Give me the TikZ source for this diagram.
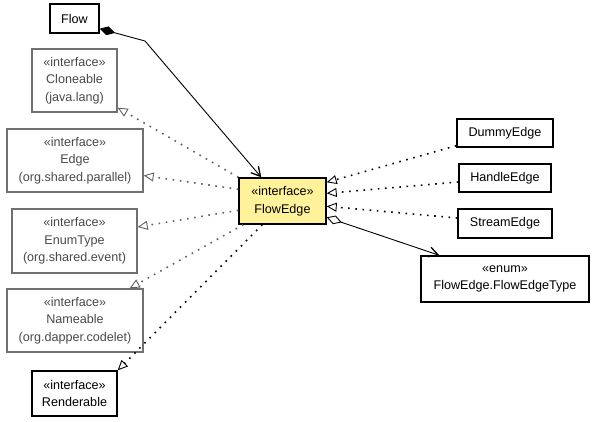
\documentclass[tikz,border=0pt]{standalone}
\usepackage{fontspec}
\setmainfont{Liberation Sans}
\usetikzlibrary{arrows.meta}
\definecolor{noteyellow}{HTML}{FFF29A}
\definecolor{libgray}{HTML}{707070}
\definecolor{libtext}{HTML}{4A4A4A}
\definecolor{libline}{HTML}{606060}
\tikzset{
  umlbox/.style={draw=black, line width=1.4pt, fill=white, inner sep=0pt,
    align=center, font=\fontsize{12.6}{17.5}\selectfont},
  libbox/.style={umlbox, draw=libgray, text=libtext},
  focusbox/.style={umlbox, fill=noteyellow},
  realize/.style={line width=1.6pt, dash pattern=on 1.6pt off 5.6pt,
    -{Triangle[open, length=10pt, width=9pt, line width=0.9pt]}},
  librealize/.style={realize, draw=libline},
  navig/.style={line width=0.9pt, -{Straight Barb[length=9pt, width=10pt, line width=1.3pt]}},
}
\begin{document}
\begin{tikzpicture}[x=1pt, y=-1pt]
\useasboundingbox (0,0) rectangle (595,421);

% classes
\node[umlbox, minimum width=49pt, minimum height=29pt] (flow) at (74.5,18.5) {Flow};
\node[libbox, minimum width=85pt, minimum height=63pt] (clone) at (74.5,80.5)
  {«interface»\\Cloneable\\(java.lang)};
\node[libbox, minimum width=136pt, minimum height=63pt] (edge) at (75,160.5)
  {«interface»\\Edge\\(org.shared.parallel)};
\node[libbox, minimum width=125pt, minimum height=64pt] (enum) at (74.5,241)
  {«interface»\\EnumType\\(org.shared.event)};
\node[libbox, minimum width=136pt, minimum height=63pt] (name) at (75,320.5)
  {«interface»\\Nameable\\(org.dapper.codelet)};
\node[umlbox, minimum width=85pt, minimum height=45pt] (render) at (74.5,393.5)
  {«interface»\\Renderable};
\node[focusbox, minimum width=87pt, minimum height=46pt] (fe) at (282.5,201)
  {«interface»\\FlowEdge};
\node[umlbox, minimum width=96pt, minimum height=28pt] (dummy) at (505,133) {DummyEdge};
\node[umlbox, minimum width=92pt, minimum height=28pt] (handle) at (505,178) {HandleEdge};
\node[umlbox, minimum width=94pt, minimum height=29pt] (stream) at (505,223.5) {StreamEdge};
\node[umlbox, minimum width=168pt, minimum height=46pt] (fetype) at (505,279)
  {«enum»\\FlowEdge.FlowEdgeType};

% composition Flow -> FlowEdge
\coordinate (bend) at (145,41);
\draw[navig, {Diamond[length=16pt, width=9pt]}-{Straight Barb[length=9pt, width=10pt, line width=1.3pt]}]
  ([yshift=5pt]flow.south east) -- (bend) -- ([xshift=23pt]fe.north west);

% FlowEdge extends library interfaces
\draw[librealize] (fe.north west) -- ([yshift=5pt]clone.south east);
\draw[librealize] ([yshift=-12pt]fe.north west) -- ([yshift=-15pt]edge.east);
\draw[librealize] ([yshift=-33pt]fe.north west) -- ([yshift=14pt]enum.east);
\draw[librealize] ([xshift=5pt]fe.south west) -- ([xshift=-14pt]name.north east);
\draw[realize] ([xshift=24pt]fe.south west) -- (render.north east);

% implementations of FlowEdge
\draw[realize] ([yshift=2pt]dummy.south west) -- ([yshift=-5pt]fe.north east);
\draw[realize] ([yshift=-4pt]handle.west) -- ([yshift=-16pt]fe.north east);
\draw[realize] ([yshift=5.5pt]stream.west) -- ([yshift=-29pt]fe.north east);

% aggregation FlowEdge -> FlowEdgeType
\draw[line width=0.9pt, {Diamond[open, length=16pt, width=9pt, line width=0.9pt]}-{Straight Barb[length=9pt, width=10pt, line width=1.3pt]}]
  ([yshift=-40pt]fe.north east) -- ([xshift=19pt]fetype.north west);
\end{tikzpicture}
\end{document}
